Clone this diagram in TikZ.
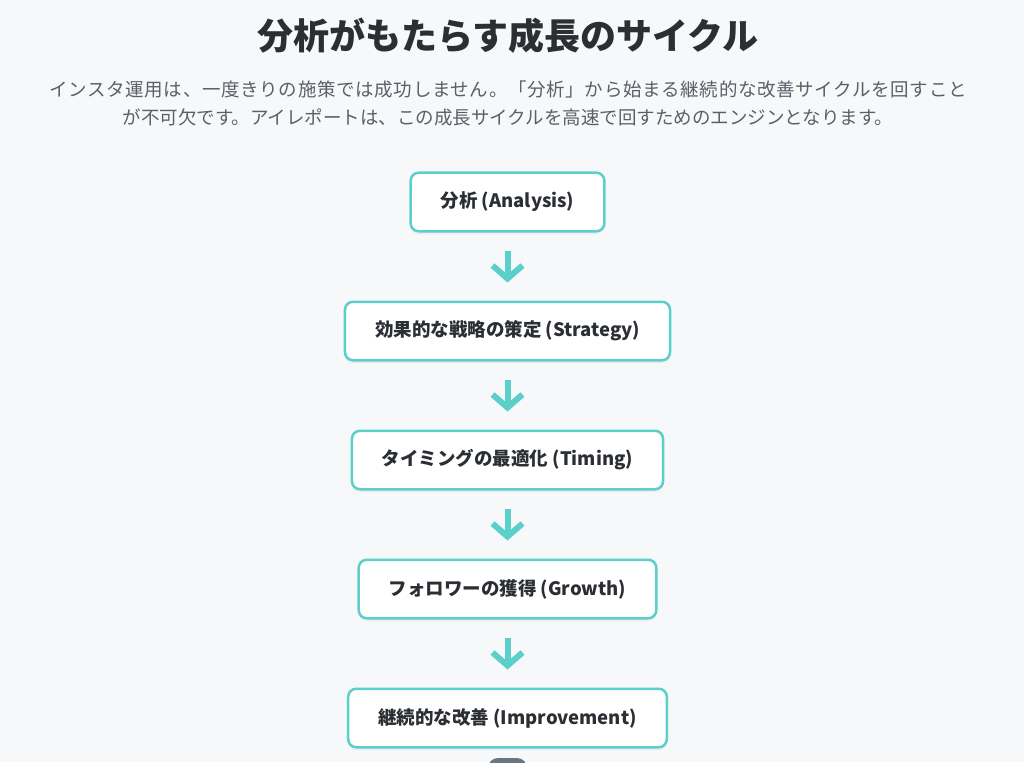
\documentclass[tikz,border=0pt]{standalone}
\usepackage{fontspec}
\setmainfont{Noto Sans CJK JP}
\usetikzlibrary{arrows.meta,positioning,shadows}
\definecolor{bgpage}{HTML}{F7F8FA}
\definecolor{tealline}{HTML}{5BCFCA}
\definecolor{inkdark}{HTML}{2B2F33}
\definecolor{inkgray}{HTML}{5A6069}
\definecolor{knobgray}{HTML}{6B7685}
\begin{document}
\begin{tikzpicture}[x=1pt, y=-1pt,
		stagebox/.style={draw=tealline, line width=2.5pt, fill=white, rounded corners=8pt,
			minimum height=58.5pt, inner xsep=30pt, font=\fontsize{18.5}{22}\selectfont\bfseries, text=inkdark,
			drop shadow={opacity=0.08, shadow xshift=0pt, shadow yshift=-3pt}},
		flowarrow/.style={draw=tealline, line width=6pt, -{Straight Barb[length=13pt, width=30pt, line width=6pt]}}]
				\useasboundingbox[fill=bgpage] (0,0) rectangle (1024,762);
				\coordinate (T) at (508, 36);
				\coordinate (P) at (508, 89);
				\coordinate (Q) at (508, 117);
				\coordinate (S1) at (507.5, 202);
				\node (title) at (T) {\fontsize{36}{40}\selectfont\bfseries\color{inkdark}分析がもたらす成長のサイクル};
				\node[text=inkgray, font=\fontsize{18.5}{22}\selectfont\addfontfeature{LetterSpace=3.6}] (intro1) at (P) {インスタ運用は、一度きりの施策では成功しません。「分析」から始まる継続的な改善サイクルを回すこと};
				\node[text=inkgray, font=\fontsize{18.5}{22}\selectfont] (intro2) at (Q) {が不可欠です。アイレポートは、この成長サイクルを高速で回すためのエンジンとなります。};
				\node[stagebox] (analysis) at (S1) {分析 (Analysis)};
				\node[stagebox, below=68pt of analysis] (strategy) {効果的な戦略の策定 (Strategy)};
				\node[stagebox, below=68pt of strategy] (timing) {タイミングの最適化 (Timing)};
				\node[stagebox, below=68pt of timing] (growth) {フォロワーの獲得 (Growth)};
				\node[stagebox, below=68pt of growth] (improve) {継続的な改善 (Improvement)};
				\draw[flowarrow] ([yshift=-18pt]analysis.south) -- ([yshift=18pt]strategy.north);
				\draw[flowarrow] ([yshift=-18pt]strategy.south) -- ([yshift=18pt]timing.north);
				\draw[flowarrow] ([yshift=-18pt]timing.south) -- ([yshift=18pt]growth.north);
				\draw[flowarrow] ([yshift=-18pt]growth.south) -- ([yshift=18pt]improve.north);
				\begin{scope}
					\clip (0,0) rectangle (1024,762);
					\fill[knobgray, rounded corners=10pt] (488, 758) rectangle (527, 790);
				\end{scope}
			\end{tikzpicture}
\end{document}
